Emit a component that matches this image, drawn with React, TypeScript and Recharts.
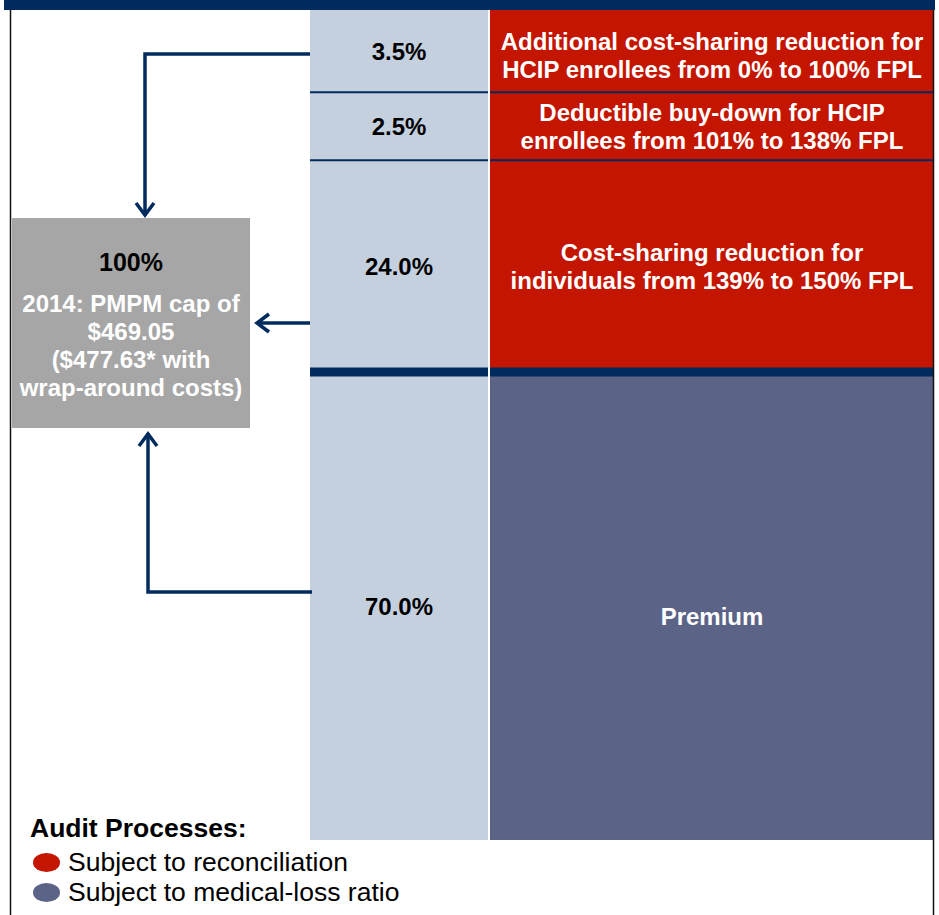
import { BarChart, Bar, XAxis, YAxis, LabelList, ReferenceLine } from "recharts"

// stack order is bottom -> top
const segmentKeys = ["premium", "csr139", "deductible", "csr0"]
const shareLabels = ["70.0%", "24.0%", "2.5%", "3.5%"]
// drawn height of each band, % of the column (read off the picture, not proportional to the share)
const bandSizes = [56.4, 25.5, 8.2, 9.9]
const descriptions = [
  ["Premium"],
  ["Cost-sharing reduction for", "individuals from 139% to 150% FPL"],
  ["Deductible buy-down for HCIP", "enrollees from 101% to 138% FPL"],
  ["Additional cost-sharing reduction for", "HCIP enrollees from 0% to 100% FPL"],
]
const auditGroup = ["mlr", "reconciliation", "reconciliation", "reconciliation"]

const totalLabel = "100%"
const capLines = ["2014: PMPM cap of", "$469.05", "($477.63* with", "wrap-around costs)"]

const legendTitle = "Audit Processes:"
const legendItems = [
  { key: "reconciliation", label: "Subject to reconciliation" },
  { key: "mlr", label: "Subject to medical-loss ratio" },
]

const NAVY = "#012b5e"
const SHARE_FILL = "#c5d0df"
const groupColors: Record<string, string> = { reconciliation: "#c31500", mlr: "#5b6386" }
const FONT = "'Liberation Sans', Arial, sans-serif"

const row: Record<string, any> = { name: "HCIP" }
segmentKeys.forEach((k, i) => (row[k] = bandSizes[i]))

// boundaries between stacked bands
const boundaries = bandSizes.slice(0, -1).map((_, i) => ({
  y: bandSizes.slice(0, i + 1).reduce((a, b) => a + b, 0),
  thick: auditGroup[i] !== auditGroup[i + 1],
}))

function multiLine(lines: string[], fill: string, shift = 0) {
  return (props: any) => {
    const { x, y, width, height } = props
    const cx = x + width / 2
    const cy = y + height / 2 + shift
    const lh = 28
    const start = cy - ((lines.length - 1) * lh) / 2
    return (
      <text
        x={cx}
        y={start}
        textAnchor="middle"
        dominantBaseline="central"
        fill={fill}
        fontFamily={FONT}
        fontWeight="bold"
        fontSize={24}
      >
        {lines.map((l, j) => (
          <tspan key={j} x={cx} y={start + j * lh}>
            {l}
          </tspan>
        ))}
      </text>
    )
  }
}

function Column({ width, mode }: { width: number; mode: "share" | "desc" }) {
  return (
    <BarChart
      width={width}
      height={830}
      data={[row]}
      margin={{ top: 0, right: 0, bottom: 0, left: 0 }}
      barCategoryGap={0}
    >
      <XAxis dataKey="name" hide />
      <YAxis hide domain={[0, 100]} allowDataOverflow />
      {segmentKeys.map((k, i) => (
        <Bar
          key={k}
          dataKey={k}
          stackId="a"
          fill={mode === "share" ? SHARE_FILL : groupColors[auditGroup[i]]}
          isAnimationActive={false}
        >
          <LabelList
            dataKey={k}
            content={
              mode === "share"
                ? multiLine([shareLabels[i]], "#000")
                : multiLine(descriptions[i], "#fff", i === 0 ? 10 : i === 3 ? 4 : 0)
            }
          />
        </Bar>
      ))}
      {boundaries.map((b, i) => (
        <ReferenceLine key={i} y={b.y} stroke={NAVY} strokeWidth={b.thick ? 9 : 2} />
      ))}
    </BarChart>
  )
}

export default function App() {
  return (
    <div
      style={{
        position: "absolute",
        left: 0,
        top: 0,
        width: 939,
        height: 915,
        background: "#fff",
        fontFamily: FONT,
        overflow: "hidden",
      }}
    >
      <div style={{ position: "absolute", left: 310, top: 10 }}>
        <Column width={178} mode="share" />
      </div>
      <div style={{ position: "absolute", left: 490, top: 10 }}>
        <Column width={444} mode="desc" />
      </div>

      <svg
        width={939}
        height={915}
        style={{ position: "absolute", left: 0, top: 0, pointerEvents: "none" }}
      >
        <rect x={4} y={0} width={931} height={10} fill={NAVY} />
        <line x1={10.5} y1={10} x2={10.5} y2={915} stroke="#111" strokeWidth={1.5} />
        <line x1={933.5} y1={10} x2={933.5} y2={915} stroke="#111" strokeWidth={1.5} />

        <rect x={12} y={218} width={238} height={210} fill="#a6a6a6" />

        <g stroke={NAVY} strokeWidth={3.5} fill="none">
          <path d="M310 54 H145 V215" />
          <path d="M136 203 L145 215 L154 203" />
          <path d="M310 323 H258" />
          <path d="M269 314 L257 323 L269 332" />
          <path d="M312 592 H148 V433" />
          <path d="M139 446 L148 434 L157 446" />
        </g>
      </svg>

      <div
        style={{
          position: "absolute",
          left: 12,
          top: 218,
          width: 238,
          textAlign: "center",
          fontWeight: "bold",
        }}
      >
        <div style={{ fontSize: 25, color: "#000", position: "absolute", top: 30, width: 238, lineHeight: "28px" }}>
          {totalLabel}
        </div>
        <div style={{ fontSize: 24, color: "#fff", position: "absolute", top: 72, width: 238, lineHeight: "28px" }}>
          {capLines.map((l) => (
            <div key={l}>{l}</div>
          ))}
        </div>
      </div>

      <div style={{ position: "absolute", left: 30, top: 813, fontSize: 26.5, fontWeight: "bold", lineHeight: "30px" }}>
        {legendTitle}
      </div>
      {legendItems.map((it, i) => (
        <div
          key={it.key}
          style={{
            position: "absolute",
            left: 33,
            top: 847 + i * 30,
            display: "flex",
            alignItems: "center",
            height: 30,
            fontSize: 26.5,
          }}
        >
          <span
            style={{
              display: "inline-block",
              width: 27,
              height: 19,
              borderRadius: "50%",
              background: groupColors[it.key],
              marginRight: 8,
            }}
          />
          {it.label}
        </div>
      ))}
    </div>
  )
}
